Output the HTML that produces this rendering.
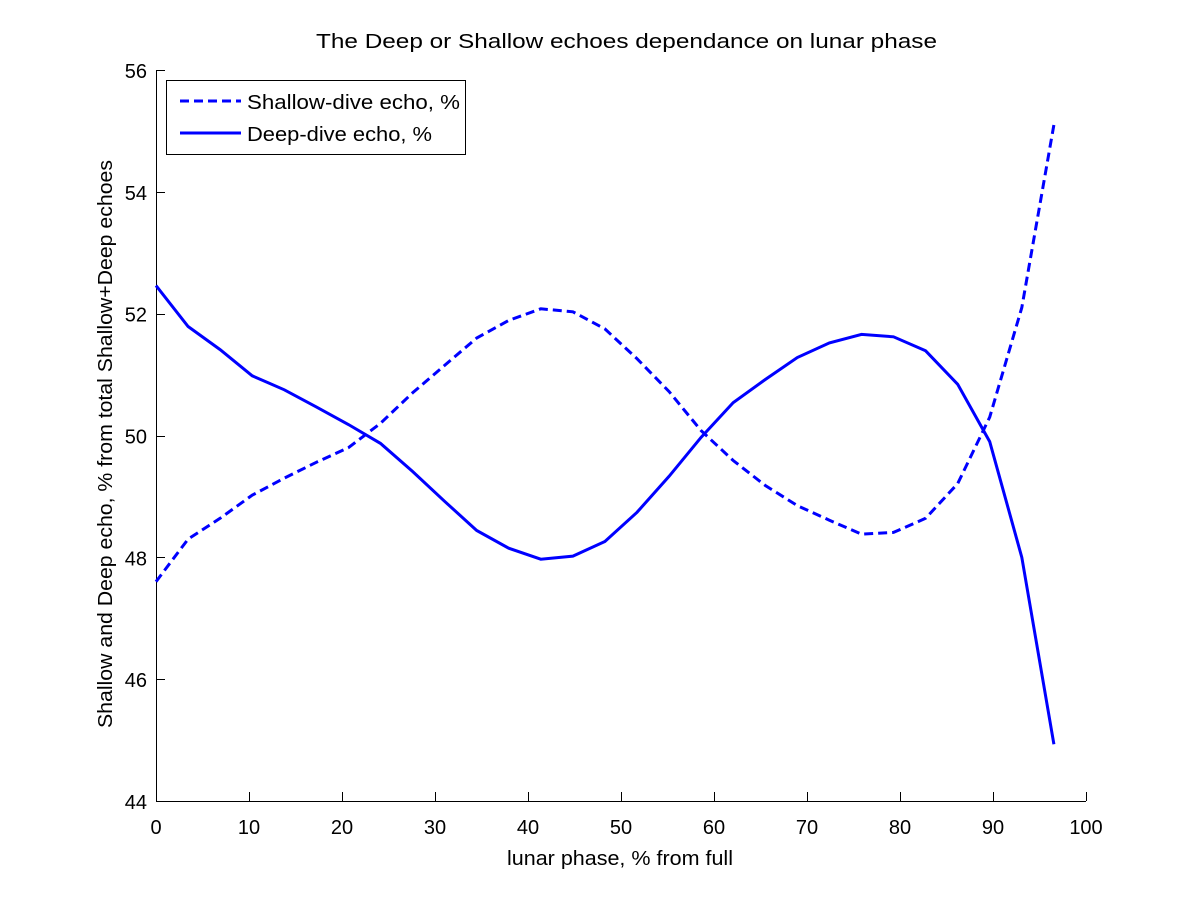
<!DOCTYPE html>
<html><head><meta charset="utf-8"><style>
body{margin:0;background:#fff;}
svg{display:block;font-family:"Liberation Sans",sans-serif;}
</style></head><body>
<svg id="chart" width="1200" height="900" xmlns="http://www.w3.org/2000/svg">
<rect width="1200" height="900" fill="#fff"/>
<text x="316" y="48" font-size="20" textLength="621" lengthAdjust="spacingAndGlyphs">The Deep or Shallow echoes dependance on lunar phase</text>
<g id="axes"></g>
<g id="series"></g>
<text x="507" y="865" font-size="20" textLength="226" lengthAdjust="spacingAndGlyphs">lunar phase, % from full</text>
<text transform="translate(112,728) rotate(-90)" font-size="20" textLength="568" lengthAdjust="spacingAndGlyphs">Shallow and Deep echo, % from total Shallow+Deep echoes</text>
<g>
<rect x="166.5" y="80.5" width="299" height="74" fill="#fff" stroke="#000" stroke-width="1"/>
<line x1="180" y1="101" x2="241" y2="101" stroke="#0000ff" stroke-width="3" stroke-dasharray="9,5"/>
<text x="247" y="109" font-size="20" textLength="213" lengthAdjust="spacingAndGlyphs">Shallow-dive echo, %</text>
<line x1="180" y1="133" x2="241" y2="133" stroke="#0000ff" stroke-width="3"/>
<text x="247" y="141" font-size="20" textLength="185" lengthAdjust="spacingAndGlyphs">Deep-dive echo, %</text>
</g>
</svg>
<script>
const phaseStep = 3.448;
const shallowValues = [47.6,48.3,48.64,49.02,49.3,49.56,49.8,50.2,50.7,51.15,51.6,51.89,52.08,52.03,51.75,51.26,50.72,50.08,49.59,49.18,48.85,48.61,48.38,48.41,48.64,49.21,50.3,52.1,55.1];
const deepValues = [52.46,51.79,51.41,50.98,50.75,50.47,50.18,49.87,49.41,48.92,48.44,48.15,47.97,48.02,48.26,48.74,49.33,49.97,50.54,50.92,51.28,51.52,51.66,51.62,51.39,50.84,49.9,48.0,44.93];
const xTicks = [0,10,20,30,40,50,60,70,80,90,100];
const yTicks = [44,46,48,50,52,54,56];
const phases = shallowValues.map((_, i) => i * phaseStep);

const X0=156, X1=1086, Y0=801, Y1=70;
const xs = v => X0 + (v-0)/(100-0)*(X1-X0);
const ys = v => Y0 - (v-44)/(56-44)*(Y0-Y1);
const NS="http://www.w3.org/2000/svg";
function mk(tag, attrs, parent){const e=document.createElementNS(NS,tag);for(const k in attrs)e.setAttribute(k,attrs[k]);parent.appendChild(e);return e;}
const axes=document.getElementById('axes');
const xl=mk('line',{x1:X0,y1:Y0+0.5,x2:X1,y2:Y0+0.5,stroke:'#000','stroke-width':1},axes);


const yl=mk('line',{x1:X0+0.5,y1:Y1,x2:X0+0.5,y2:Y0,stroke:'#000','stroke-width':1},axes);


xTicks.forEach(t=>{
  const x=Math.round(xs(t))+0.5;
  const tk=mk('line',{x1:x,y1:Y0,x2:x,y2:Y0-9,stroke:'#000'},axes);
  
  
  const tx=mk('text',{x:xs(t),y:Y0+33,'font-size':20,'text-anchor':'middle'},axes);
  tx.textContent=t;
  
  
});
yTicks.forEach(t=>{
  const y=Math.round(ys(t))+0.5;
  const tk=mk('line',{x1:X0,y1:y,x2:X0+9,y2:y,stroke:'#000'},axes);
  
  
  const tx=mk('text',{x:X0-9,y:ys(t)+8,'font-size':20,'text-anchor':'end'},axes);
  tx.textContent=t;
  
  
});
const ser=document.getElementById('series');
const pts=vals=>vals.map((v,i)=>xs(phases[i]).toFixed(1)+','+ys(v).toFixed(1)).join(' ');
const sh=mk('polyline',{points:pts(shallowValues),fill:'none',stroke:'#0000ff','stroke-width':3,'stroke-dasharray':'9,5'},ser);


const dp=mk('polyline',{points:pts(deepValues),fill:'none',stroke:'#0000ff','stroke-width':3},ser);


</script>
</body></html>
